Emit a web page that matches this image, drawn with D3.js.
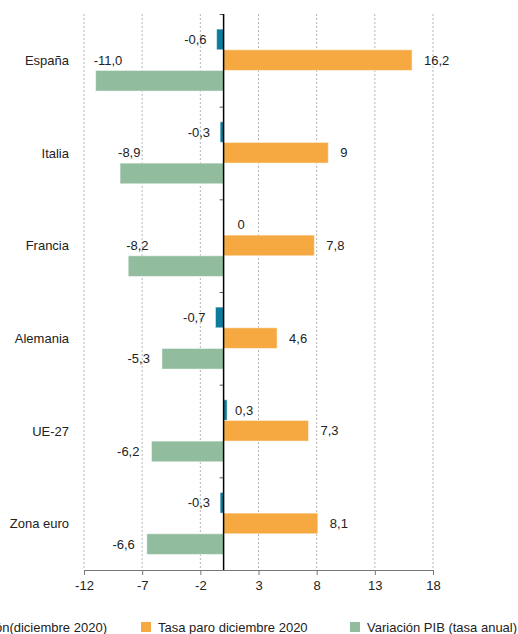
<!DOCTYPE html>
<html><head><meta charset="utf-8">
<script src="https://cdn.jsdelivr.net/npm/d3@7"></script>
<style>
body{margin:0;background:#fff;}
svg{display:block;font-family:"Liberation Sans",Arial,Helvetica,sans-serif;}
</style></head>
<body>
<svg id="c" width="518" height="634"></svg>
<script>
const categories = ["España","Italia","Francia","Alemania","UE-27","Zona euro"];
const seriesNames = ["Inflación(diciembre 2020)","Tasa paro diciembre 2020","Variación PIB (tasa anual)"];
const inflacion = [-0.6,-0.3,0,-0.7,0.3,-0.3];
const paro = [16.2,9,7.8,4.6,7.3,8.1];
const pib = [-11.0,-8.9,-8.2,-5.3,-6.2,-6.6];
const inflacionLabels = ["-0,6","-0,3","0","-0,7","0,3","-0,3"];
const paroLabels = ["16,2","9","7,8","4,6","7,3","8,1"];
const pibLabels = ["-11,0","-8,9","-8,2","-5,3","-6,2","-6,6"];
const xTicks = [-12,-7,-2,3,8,13,18];
const colors = ["#0d7c9b","#f6a941","#91bc9e"];

const svg = d3.select("#c");
const x = d3.scaleLinear().domain([-12,18]).range([84,433]);
const y = d3.scaleBand().domain(categories).range([14,570]).padding(0);
const step = y.bandwidth();
const y1 = d3.scaleBand().domain(seriesNames).range([step*0.163, step*0.832]).padding(0);

// gridlines
svg.append("g").selectAll("line").data(xTicks).join("line")
  .attr("x1",d=>x(d)).attr("x2",d=>x(d)).attr("y1",14).attr("y2",570)
  .attr("stroke","#b5b5b5").attr("stroke-dasharray","2,2").attr("stroke-width",1);

// bottom axis
const xAxis = d3.axisBottom(x).tickValues(xTicks).tickSize(5).tickPadding(6).tickFormat(d=>String(d));
const gx = svg.append("g").attr("transform","translate(0,570)").call(xAxis);
gx.select(".domain").attr("stroke","#777").attr("d","M84,0.5H433");
gx.selectAll(".tick line").attr("stroke","#777");
gx.selectAll(".tick text").attr("font-size",13).attr("fill","#222").attr("font-family","Liberation Sans, Arial, sans-serif");

// data rows
const rows = categories.map((c,i)=>({c, vals:[inflacion[i],paro[i],pib[i]], labs:[inflacionLabels[i],paroLabels[i],pibLabels[i]]}));

const g = svg.append("g");
rows.forEach(r=>{
  r.vals.forEach((v,j)=>{
    const s = seriesNames[j];
    const yy = y(r.c)+y1(s);
    const h = y1.bandwidth();
    g.append("rect")
      .attr("x", x(Math.min(0,v))).attr("y", yy)
      .attr("width", Math.abs(x(v)-x(0))).attr("height", h)
      .attr("fill", colors[j]).attr("stroke","rgba(255,255,255,0.5)").attr("stroke-width",1);
    const lab = r.labs[j];
    const cy = yy + h/2;
    const t = g.append("text").text(lab).attr("font-size",13).attr("fill","#222")
      .attr("dominant-baseline","central");
    if (v < 0) {
      const xe = x(v);
      if (xe - 60 < x.range()[0]) {
        t.attr("x", xe - 2).attr("y", cy - h).attr("text-anchor","start");
      } else {
        t.attr("x", xe - (j===0?10:12)).attr("y", cy).attr("text-anchor","end");
      }
    } else if (v === 0) {
      t.attr("x", x(0)+14).attr("y", cy).attr("text-anchor","start");
    } else {
      t.attr("x", x(v) + (j===0?8:12)).attr("y", cy).attr("text-anchor","start");
    }
  });
});

// left axis ticks at zero
svg.append("g").selectAll("line").data(categories).join("line")
  .attr("x1",x(0)-4).attr("x2",x(0)).attr("y1",d=>y(d)+0.5).attr("y2",d=>y(d)+0.5)
  .attr("stroke","#555");
svg.append("line").attr("x1",x(0)).attr("x2",x(0)).attr("y1",14).attr("y2",570)
  .attr("stroke","#000").attr("stroke-width",1.5);

// category labels
svg.append("g").selectAll("text").data(categories).join("text")
  .attr("x",69).attr("y",d=>y(d)+step/2).attr("text-anchor","end")
  .attr("dominant-baseline","central").attr("font-size",13).attr("fill","#222").text(d=>d);

// legend
const legX = [-56, 141, 350];
const lg = svg.append("g");
seriesNames.forEach((s,j)=>{
  lg.append("rect").attr("x",legX[j]).attr("y",622).attr("width",10).attr("height",10).attr("fill",colors[j]);
  lg.append("text").attr("x",legX[j]+17).attr("y",627).attr("dominant-baseline","central")
    .attr("font-size",13).attr("fill","#222").text(s);
});
</script>
</body></html>
